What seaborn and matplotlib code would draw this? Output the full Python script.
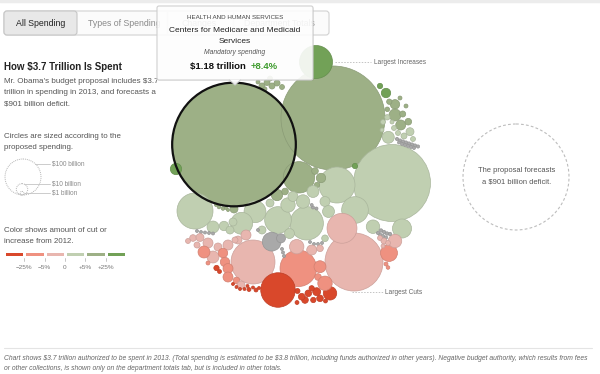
import matplotlib
matplotlib.use("Agg")
import matplotlib.pyplot as plt
import seaborn as sns
import numpy as np
import pandas as pd
from matplotlib.patches import Circle, FancyBboxPatch, Polygon
from matplotlib.colors import ListedColormap

sns.set_theme(style="white")
plt.rcParams['font.family'] = ['Liberation Sans', 'DejaVu Sans']

# ---------------- data ----------------
change_bins = ["P3", "P2", "P1", "G1", "G2", "G3"]
bin_colors = ["#d9482b", "#ef9180", "#e8b6af", "#c0cfb1", "#9db086", "#72a157"]
na_color = "#a9a9a9"
bin_tick_labels = ["\u221225%", "\u22125%", "0", "+5%", "+25%"]
size_legend_billions = [100, 10, 1]
size_legend_labels = ["$100 billion", "$10 billion", "$1 billion"]

# bubble layout positions (px), spending (billions of $), change bin
bubble_x = [
    234, 333, 392, 354, 253, 298.3, 278, 316, 299, 195, 337, 306.7, 355, 342, 278, 255, 241.7, 271.7, 281, 402,
    389, 373, 395, 296.7, 330, 176, 246, 386, 380, 355,
    395, 389.3, 395, 402.7, 400.7, 408.3, 387.3, 387.3, 410, 388.3, 394, 398, 404, 392, 383, 413, 406, 400, 382,
    397, 400, 403, 406, 409, 412, 415, 418, 399, 402, 405, 408, 411, 414,
    315, 321, 317, 277, 285, 288, 293, 303, 313, 325, 328.5, 270,
    234, 219, 223, 226, 216, 228, 213, 224, 233, 230, 289.5, 262,
    197, 201, 205, 209, 213, 310, 314, 318, 322, 282, 283, 284, 313, 316.5, 258, 311.7,
    381, 384, 387, 390, 380, 383, 386, 378,
    193, 200, 208, 218, 228, 238, 213, 223, 225, 228, 228, 236.5, 241, 204, 208, 216.5, 219.5, 197, 188, 235,
    233, 236.5, 240, 244.5, 249, 253, 247.5, 256, 259,
    316.7, 308.3, 305, 313.3, 320, 301.7, 297.5, 325.5, 311.7, 297,
    320, 318, 325, 311.7, 320, 325,
    380, 384, 388, 383, 386, 388,
    262, 267, 272, 277, 270, 282, 258, 265,
]
bubble_y = [
    144.5, 118, 183, 262, 262, 268.3, 290, 62, 177.3, 211, 185, 223.3, 210, 228.3, 220, 211.7, 223.3, 241.7, 238.3, 228.5,
    253, 226.7, 241, 246.7, 293.3, 169, 235, 93, 86, 166,
    104.3, 101.7, 115, 114, 125, 121.7, 109.3, 117.3, 131.7, 137.3, 128, 133, 136, 122, 122, 139, 106, 98, 130,
    139, 140.5, 141.5, 142.5, 143.5, 144.5, 145.5, 146.5, 142.5, 144, 145, 146, 147, 148,
    171, 178, 185, 195, 191.5, 205, 196.5, 201.5, 191.5, 201.5, 211.5, 203,
    209, 207, 208.5, 208, 205, 210, 227, 226, 222, 230, 233.5, 230,
    231, 232, 232.5, 233, 233.5, 242, 244, 244, 243, 249, 252.5, 256, 207.5, 208.5, 230, 205,
    230.5, 232, 233.5, 234, 234.5, 236, 237.5, 233,
    238, 237.5, 243, 247, 245, 240, 257, 253, 262, 268.5, 277, 280.5, 285, 252, 263, 268, 271.5, 245, 241, 240,
    284, 287, 289, 289, 289.5, 287.5, 286, 290, 288,
    291.7, 293.3, 300, 300, 298.3, 296.7, 291, 301, 288.3, 302.5,
    266.7, 277, 283.3, 250, 248.3, 238.3,
    238, 241, 243, 246, 264, 267.5,
    86, 82.5, 86, 83, 78.5, 87, 82, 89,
]
bubble_billions = [
    1180, 835, 457, 260, 149, 103, 92, 84, 76, 100, 100, 86, 55, 69, 55, 37, 37, 27, 6.2, 28,
    22, 14, 14, 16, 14, 10, 7.7, 6.8, 2.2, 2.2,
    6.8, 2.2, 11, 2.8, 7.7, 3.4, 1.6, 2.2, 4.9, 11, 1.9, 1.9, 2.8, 1.2, 1.9, 1.9, 1.2, 1.2, 1.2,
    0.8, 0.8, 0.8, 0.8, 0.8, 0.8, 0.8, 0.8, 0.7, 0.7, 0.7, 0.7, 0.7, 0.7,
    3.4, 6.8, 2.2, 10, 3.4, 16, 7.7, 14, 11, 7.7, 11, 4.9,
    4.9, 1.0, 1.0, 0.7, 0.7, 0.7, 11, 6.8, 4.9, 4.9, 7.7, 4.9,
    0.7, 0.7, 0.7, 0.7, 0.7, 0.7, 0.7, 0.7, 0.7, 0.7, 0.7, 0.7, 0.7, 0.7, 0.7, 0.7,
    0.9, 0.9, 0.9, 0.9, 0.8, 0.8, 0.8, 0.8,
    3.4, 4.9, 7.7, 4.9, 7.7, 4.9, 11, 6.8, 6.8, 7.7, 7.7, 3.4, 4.9, 11, 1.2, 2.2, 1.2, 2.8, 1.9, 2.8,
    0.7, 0.7, 0.7, 0.7, 1.2, 0.7, 0.7, 1.2, 0.7,
    4.9, 3.4, 3.4, 2.2, 3.4, 3.4, 1.9, 1.2, 2.2, 1.2,
    11, 3.4, 16, 7.7, 3.4, 3.4,
    1.9, 2.8, 1.9, 1.2, 1.2, 1.0,
    2.8, 2.8, 2.8, 2.8, 1.9, 1.9, 1.2, 1.2,
]
bubble_change = (
    ["G2", "G2", "G1", "P1", "P1", "P2", "P3", "G3", "G2", "G1", "G1", "G1", "G1", "P1", "G1", "G1", "G1", "NA", "NA", "G1",
     "P2", "G1", "P1", "P1", "P3", "G3", "P1", "G3", "G3", "G3"]
    + ["G2", "G2", "G2", "G2", "G2", "G2", "G2", "G1", "G1", "G1", "G1", "G1", "G1", "G1", "G1", "G1", "G2", "G2", "G1"]
    + ["NA"] * 14
    + ["G2", "G2", "G2", "G2", "G2", "G1", "G1", "G1", "G1", "G1", "G1", "G1"]
    + ["G2", "G2", "G2", "G2", "G2", "G2", "G1", "G1", "G1", "G1", "G1", "G1"]
    + ["NA"] * 16
    + ["NA"] * 8
    + ["P1", "P1", "P1", "P1", "P1", "P1", "P1", "P2", "P2", "P2", "P2", "P2", "P1", "P2", "P2", "P3", "P3", "P1", "P1", "P1"]
    + ["P3"] * 9
    + ["P3"] * 10
    + ["P2", "P2", "P2", "P1", "P1", "G1"]
    + ["P1", "P1", "P1", "P1", "P2", "P2"]
    + ["G2"] * 8
)

highlight_index = 0

# ---------------- figure ----------------
W, H = 600, 374
fig = plt.figure(figsize=(6, 3.74), dpi=100)
ax = fig.add_axes([0, 0, 1, 1])

PX_R = 1.8            # px radius per sqrt(billion)
PT = 72 / 100         # points per pixel
K = (2 * PX_R * PT) ** 2  # marker area (pt^2) per billion

df = pd.DataFrame({"x": bubble_x, "y": bubble_y, "billions": bubble_billions, "change": bubble_change})
palette = dict(zip(change_bins, bin_colors))
palette["NA"] = na_color
bmin, bmax = df["billions"].min(), df["billions"].max()
sns.scatterplot(data=df, x="x", y="y", hue="change", palette=palette,
                size="billions", sizes=(K * bmin, K * bmax), size_norm=(bmin, bmax),
                linewidth=0.5, legend=False, ax=ax, zorder=3)
coll = ax.collections[-1]
fcs = coll.get_facecolors()
ecs = fcs.copy()
ecs[:, :3] = ecs[:, :3] * 0.88
coll.set_edgecolors(ecs)

# highlighted bubble outline
hx, hy, hb = bubble_x[highlight_index], bubble_y[highlight_index], bubble_billions[highlight_index]
ax.scatter([hx], [hy], s=K * hb, facecolors="none", edgecolors="#111111", linewidths=1.6, zorder=4)

ax.set_xlim(0, W)
ax.set_ylim(H, 0)
ax.axis("off")

# top rule
ax.plot([0, W], [1.2, 1.2], color="#ececec", lw=2.5, zorder=1)

# tabs
ax.add_patch(FancyBboxPatch((4, 11), 325, 24, boxstyle="round,pad=0,rounding_size=3",
                            fc="#fbfbfb", ec="#d2d2d2", lw=0.8, zorder=1))
ax.add_patch(FancyBboxPatch((4, 11), 73, 24, boxstyle="round,pad=0,rounding_size=3",
                            fc="#e8e8e8", ec="#c6c6c6", lw=0.8, zorder=1.1))
for sx in [167, 233]:
    ax.plot([sx, sx], [11, 35], color="#dddddd", lw=0.8, zorder=1.2)
ax.text(40.5, 23, "All Spending", ha="center", va="center", fontsize=6.3, color="#222222", zorder=1.3)
ax.text(88, 23, "Types of Spending", ha="left", va="center", fontsize=6.3, color="#8a8a8a", zorder=1.3)
ax.text(182, 23, "Changes", ha="left", va="center", fontsize=6.3, color="#8a8a8a", zorder=1.3)
ax.text(244, 23, "Department Totals", ha="left", va="center", fontsize=6.3, color="#8a8a8a", zorder=1.3)

# left texts
ax.text(4, 67, "How $3.7 Trillion Is Spent", ha="left", va="center", fontsize=7, fontweight="bold", color="#222222")
for i, line in enumerate(["Mr. Obama's budget proposal includes $3.7",
                          "trillion in spending in 2013, and forecasts a",
                          "$901 billion deficit."]):
    ax.text(4, 81 + 11.5 * i, line, ha="left", va="center", fontsize=5.8, color="#555555")
for i, line in enumerate(["Circles are sized according to the", "proposed spending."]):
    ax.text(4, 136 + 11.5 * i, line, ha="left", va="center", fontsize=5.7, color="#555555")

# size legend
base_y = 195
label_ys = [164, 184, 193]
for b, lab, ly in zip(size_legend_billions, size_legend_labels, label_ys):
    r = PX_R * np.sqrt(b)
    cx, cy = 23 - (1 if b < 100 else 0), base_y - r
    ax.add_patch(Circle((cx, cy), r, fill=False, ec="#b5b5b5", lw=0.7, ls=(0, (1, 1)), zorder=2))
    dy = ly - cy
    x0 = cx + np.sqrt(max(r * r - dy * dy, 0))
    ax.plot([x0, 50], [ly, ly], color="#c4c4c4", lw=0.6, zorder=2)
    ax.text(52, ly, lab, ha="left", va="center", fontsize=4.7, color="#8a8a8a")

for i, line in enumerate(["Color shows amount of cut or", "increase from 2012."]):
    ax.text(4, 230 + 11 * i, line, ha="left", va="center", fontsize=5.7, color="#555555")

# colour bar via seaborn heatmap
bar_x0, bar_x1, bar_y0, bar_y1 = 4, 126, 251, 257
cax = fig.add_axes([bar_x0 / W, 1 - bar_y1 / H, (bar_x1 - bar_x0) / W, (bar_y1 - bar_y0) / H])
sns.heatmap(np.arange(len(bin_colors)).reshape(1, -1), cmap=ListedColormap(bin_colors), vmin=-0.5,
            vmax=len(bin_colors) - 0.5, cbar=False, linewidths=0.8, linecolor="white",
            xticklabels=False, yticklabels=False, ax=cax)
cax.axis("off")
seg = (bar_x1 - bar_x0) / len(bin_colors)
for i, lab in enumerate(bin_tick_labels):
    tx = bar_x0 + seg * (i + 1)
    ax.plot([tx, tx], [257.5, 261], color="#bbbbbb", lw=0.6)
    ax.text(tx, 267.5, lab, ha="center", va="center", fontsize=4.6, color="#777777")

# annotations
ax.plot([335, 371], [62, 62], color="#c4c4c4", lw=0.7, ls=(0, (1.5, 1.5)), zorder=2)
ax.text(374, 62, "Largest Increases", ha="left", va="center", fontsize=4.7, color="#666666")
ax.plot([352, 383], [292, 292], color="#c4c4c4", lw=0.7, ls=(0, (1.5, 1.5)), zorder=2)
ax.text(385, 292, "Largest Cuts", ha="left", va="center", fontsize=4.7, color="#666666")

# deficit circle
ax.add_patch(Circle((516, 177), 53, fill=False, ec="#bdbdbd", lw=0.8, ls=(0, (2.5, 2)), zorder=2))
ax.text(517, 170, "The proposal forecasts", ha="center", va="center", fontsize=5.45, color="#555555")
ax.text(517, 181.5, "a $901 billion deficit.", ha="center", va="center", fontsize=5.45, color="#555555")

# footer
ax.plot([4, 592], [347.5, 347.5], color="#e4e4e4", lw=0.8)
ax.text(4, 358, "Chart shows \\$3.7 trillion authorized to be spent in 2013. (Total spending is estimated to be \\$3.8 trillion, "
        "including funds authorized in other years). Negative budget authority, which results from fees",
        ha="left", va="center", fontsize=4.85, style="italic", color="#666666")
ax.text(4, 368, "or other collections, is shown only on the department totals tab, but is included in other totals.",
        ha="left", va="center", fontsize=4.85, style="italic", color="#666666")

# tooltip
ax.add_patch(FancyBboxPatch((158, 7), 156, 74, boxstyle="round,pad=0,rounding_size=2",
                            fc="#000000", alpha=0.06, ec="none", zorder=5))
ax.add_patch(FancyBboxPatch((157, 6), 156, 74, boxstyle="round,pad=0,rounding_size=2",
                            fc=(1, 1, 1, 0.9), ec="#cfcfcf", lw=0.8, zorder=5.1))
ax.add_patch(Polygon([(229.5, 79.6), (235, 85), (240.5, 79.6)], closed=True, fc=(1, 1, 1, 0.95), ec="none", zorder=5.2))
ax.plot([229.5, 235, 240.5], [80, 85, 80], color="#cfcfcf", lw=0.8, zorder=5.3)
ax.text(235, 17, "HEALTH AND HUMAN SERVICES", ha="center", va="center", fontsize=4.5, color="#444444", zorder=6)
ax.text(235, 30.5, "Centers for Medicare and Medicaid", ha="center", va="center", fontsize=6, color="#222222", zorder=6)
ax.text(235, 41.5, "Services", ha="center", va="center", fontsize=6, color="#222222", zorder=6)
ax.text(235, 52, "Mandatory spending", ha="center", va="center", fontsize=4.9, style="italic", color="#555555", zorder=6)
ax.text(245.5, 66, "$1.18 trillion", ha="right", va="center", fontsize=6.8, fontweight="bold", color="#111111", zorder=6)
ax.text(251, 66, "+8.4%", ha="left", va="center", fontsize=6.8, fontweight="bold", color="#3f9c2e", zorder=6)

fig.savefig("out.png", dpi=100)
